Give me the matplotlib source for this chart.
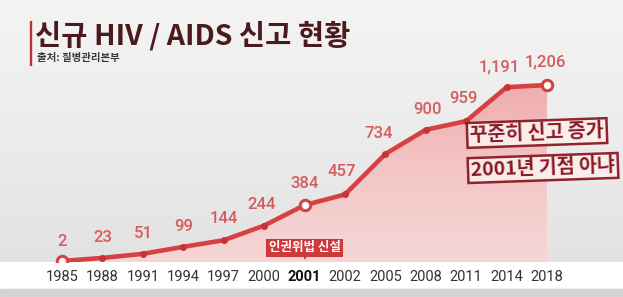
import numpy as np
import matplotlib
matplotlib.use("Agg")
import matplotlib.pyplot as plt
from matplotlib.patches import Rectangle, Polygon
from matplotlib.colors import LinearSegmentedColormap

years = ["1985", "1988", "1991", "1994", "1997", "2000", "2001", "2002",
         "2005", "2008", "2011", "2014", "2018"]
values = [2, 23, 51, 99, 144, 244, 384, 457, 734, 900, 959, 1191, 1206]
value_labels = ["2", "23", "51", "99", "144", "244", "384", "457", "734",
                "900", "959", "1,191", "1,206"]
title = "신규 HIV / AIDS 신고 현황"
source = "출처: 질병관리본부"
event_label = "인권위법 신설"
event_year = "2001"
stamp1 = "꾸준히 신고 증가"
stamp2 = "2001년 기점 아냐"

W, H = 623, 297
KR = ["Noto Sans CJK KR", "DejaVu Sans"]
LINE = "#d64244"
LABEL = "#d65b5c"

fig = plt.figure(figsize=(W / 100, H / 100), dpi=100)

# background
bg = fig.add_axes([0, 0, 1, 1], zorder=-5)
grad = np.linspace(0, 1, 256).reshape(-1, 1)
bgcmap = LinearSegmentedColormap.from_list("bg", ["#f4f4f4", "#ebebeb", "#dfdfdf"])
bg.imshow(grad, aspect="auto", cmap=bgcmap, extent=[0, 1, 0, 1], origin="upper")
bg.set_xlim(0, 1); bg.set_ylim(0, 1)
bg.axis("off")
bg.add_patch(Rectangle((0, 1 - 289 / H), 1, 27 / H, color="white", zorder=3))
bg.add_patch(Rectangle((0, 0), 1, 1 - 289 / H, color="#d4d4d4", zorder=3))

# main axes: bottom at pixel 262
ax = fig.add_axes([0, (H - 262) / H, 1, 262 / H], zorder=1)
ax.patch.set_alpha(0)
x = np.arange(len(years))
ppu = 176 / 1204.0
XL = (-62 / 40.42, (W - 62) / 40.42)
YL = (2 - 1 / ppu, 2 + 261 / ppu)
for s in ax.spines.values():
    s.set_visible(False)
ax.set_yticks([])
ax.set_xticks(x, years)
ax.tick_params(axis="x", length=0, pad=5.5, labelsize=10.5, labelcolor="#333333")
for t in ax.get_xticklabels():
    t.set_fontfamily(["Roboto", "DejaVu Sans"])
    if t.get_text() == event_year:
        t.set_fontweight("bold")
        t.set_color("#111111")

# gradient fill under the line
ybot = YL[0]
verts = [(x[0], ybot)] + list(zip(x, values)) + [(x[-1], ybot)]
poly = Polygon(verts, closed=True, facecolor="none", edgecolor="none")
ax.add_patch(poly)
fillcmap = LinearSegmentedColormap.from_list("fill", ["#f0adae", "#f4c6c6", "#f6d6d6"])
im = ax.imshow(grad, aspect="auto", cmap=fillcmap,
               extent=[x[0], x[-1], ybot, max(values)], origin="upper", zorder=1)
im.set_clip_path(poly)
ax.set_xlim(*XL)
ax.set_ylim(*YL)

# line
ax.plot(x, values, color=LINE, lw=3.3, zorder=3, solid_capstyle="round")
ax.plot(x, values, "o", color="#c93234", ms=4, zorder=4)
hollow = [0, years.index(event_year), len(years) - 1]
ax.plot(x[hollow], np.array(values)[hollow], "o", ms=7.5, mfc="white",
        mec=LINE, mew=2.2, zorder=5)

# value labels
offsets = [(0, 9), (0, 9), (0, 9), (0, 9.5), (0, 10), (-2, 10), (0, 10),
           (-2, 11), (-5, 9), (1, 9), (-2, 11), (-5, 9), (-1, 11)]
for xi, v, lab, (dx, dy) in zip(x, values, value_labels, offsets):
    ax.annotate(lab, (xi, v), xytext=(dx, dy), textcoords="offset points",
                ha="center", va="bottom", fontsize=12, color=LABEL,
                family=["Roboto", "DejaVu Sans"], fontweight="medium", zorder=6)

# event annotation
ei = years.index(event_year)
ax.text(ei, 2 + 13 / ppu, event_label, ha="center", va="center", fontsize=9,
        color="white", fontweight="bold", family=KR, zorder=7,
        bbox=dict(boxstyle="square,pad=0.22", fc="#d0393b", ec="none"))
ax.plot(ei, 2 - (-4) / ppu, marker="v", ms=5, color="#d0393b", zorder=7, mew=0)

# stamps
for txt, cx, cy in [(stamp1, 537, 133), (stamp2, 543, 168)]:
    fig.text(cx / W, 1 - cy / H, txt, ha="center", va="center", fontsize=14,
             color="#8a1a22", fontweight="heavy", family=KR, rotation=2,
             bbox=dict(boxstyle="square,pad=0.15", fc="#fbeeee", ec="#8a1a22", lw=1.8, alpha=0.95),
             zorder=10)

# title and source
fig.text(35 / W, 1 - 36 / H, title, ha="left", va="center", fontsize=20.5,
         color="#4b1a1d", fontweight="bold", family=KR)
fig.text(37 / W, 1 - 58.5 / H, source, ha="left", va="center", fontsize=7.5,
         color="#3a3a3a", fontweight="bold", family=KR)
fig.add_artist(Rectangle((29.5 / W, 1 - 65 / H), 2 / W, 44 / H,
                         transform=fig.transFigure, color="#b8333a"))

fig.savefig("out.png", dpi=100)
